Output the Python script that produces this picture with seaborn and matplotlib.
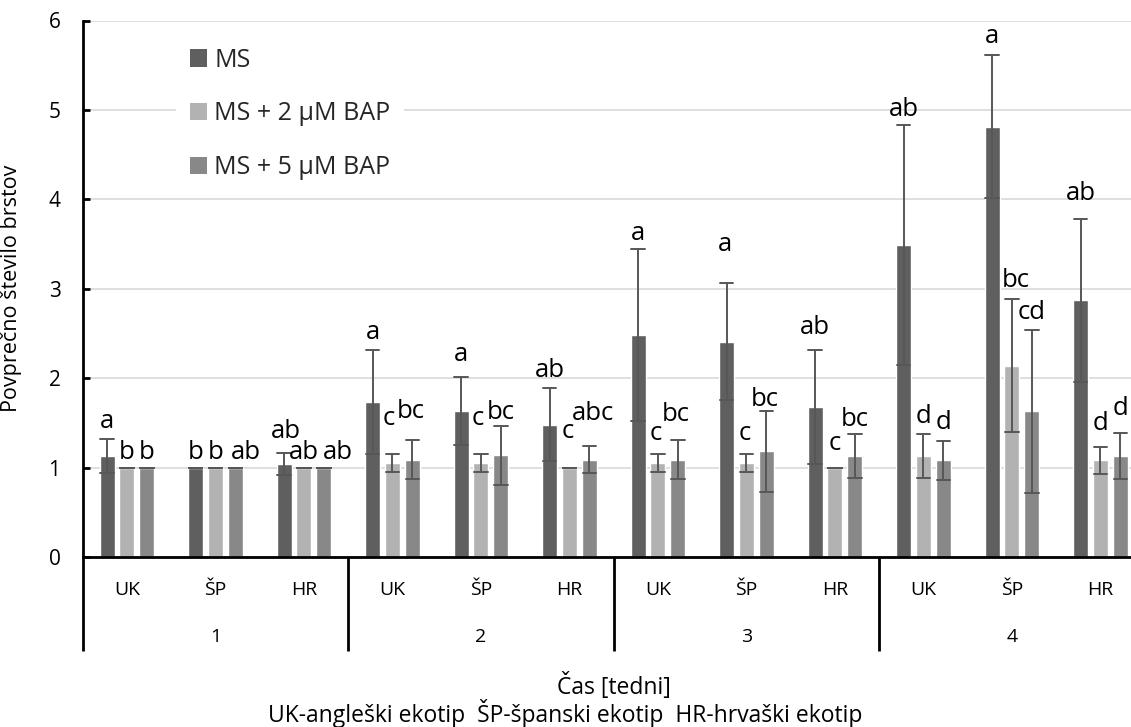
import numpy as np
import pandas as pd
import matplotlib
matplotlib.use("Agg")
import matplotlib.pyplot as plt
import seaborn as sns
from matplotlib.patches import Patch
from matplotlib.transforms import blended_transform_factory

# ---------------- data ----------------
weeks = ["1", "2", "3", "4"]
ecotypes = ["UK", "ŠP", "HR"]
treatments = ["MS", "MS + 2 µM BAP", "MS + 5 µM BAP"]

ms_mean = [1.13, 1.00, 1.04, 1.73, 1.63, 1.48, 2.48, 2.41, 1.68, 3.49, 4.81, 2.87]
ms_err = [0.19, 0.00, 0.12, 0.58, 0.38, 0.41, 0.96, 0.65, 0.64, 1.34, 0.80, 0.91]
bap2_mean = [1.00, 1.00, 1.00, 1.05, 1.05, 1.00, 1.05, 1.05, 1.00, 1.13, 2.14, 1.08]
bap2_err = [0.00, 0.00, 0.00, 0.10, 0.10, 0.00, 0.10, 0.10, 0.00, 0.25, 0.74, 0.15]
bap5_mean = [1.00, 1.00, 1.00, 1.09, 1.14, 1.09, 1.09, 1.18, 1.13, 1.08, 1.63, 1.13]
bap5_err = [0.00, 0.00, 0.00, 0.22, 0.33, 0.15, 0.22, 0.45, 0.25, 0.22, 0.91, 0.26]

letters_ms = ["a", "b", "ab", "a", "a", "ab", "a", "a", "ab", "ab", "a", "ab"]
letters_bap2 = ["b", "b", "ab", "c", "c", "c", "c", "c", "c", "d", "bc", "d"]
letters_bap5 = ["b", "ab", "ab", "bc", "bc", "abc", "bc", "bc", "bc", "d", "cd", "d"]

# ---------------- layout of letter labels (pixels above the error-bar top) ----
lift_ms = [11, 9, 15, 11, 16, 11, 9, 32, 16, 9, 12, 19]
lift_bap2 = [9, 9, 9, 29, 29, 30, 14, 14, 18, 11, 12, 17]
lift_bap5 = [9, 9, 9, 22, 7, 26, 19, 5, 8, 12, 11, 18]
shift_ms = [0, 0, 2, 0, 0, 0, 0, -2, 0, 0, 0, 0]
shift_bap2 = [0, 0, 0, -4, -3, -2, -2, -2, 0, 0, 4, 0]
shift_bap5 = [0, 11, 14, -2, 0, 4, -2, -2, 0, 0, 0, 0]

colors = ["#5f5f5f", "#b2b2b2", "#888888"]

# ---------------- build table ----------------
cats = [f"{w}-{e}" for w in weeks for e in ecotypes]
means = [ms_mean, bap2_mean, bap5_mean]
errs = [ms_err, bap2_err, bap5_err]
rows = []
for t, m_list, e_list in zip(treatments, means, errs):
    for c, m, e in zip(cats, m_list, e_list):
        rows.append({"cat": c, "treat": t, "val": m - e})
        rows.append({"cat": c, "treat": t, "val": m + e})
df = pd.DataFrame(rows)

# ---------------- figure ----------------
sns.set_style("white")
plt.rcParams["font.family"] = ["Open Sans", "DejaVu Sans"]

W, H = 1131, 727
fig = plt.figure(figsize=(W / 100, H / 100), dpi=100)
ax_left, ax_right = 82.7, 82.7 + 12 * 88.5
ax_top, ax_bot = 20.5, 557
ax = fig.add_axes([ax_left / W, 1 - ax_bot / H, (ax_right - ax_left) / W, (ax_bot - ax_top) / H])

sns.barplot(data=df, x="cat", y="val", hue="treat", order=cats, hue_order=treatments,
            palette=colors, saturation=1, estimator="mean", errorbar=("pi", 100),
            capsize=0.45, err_kws={"color": "#575757", "linewidth": 1.4},
            width=0.675, gap=0.245, legend=False, ax=ax)
for p in ax.patches:
    p.set_zorder(3)
for ln in ax.lines:
    ln.set_zorder(4)

ax.set_xlim(-0.5, 11.5)
ax.set_ylim(0, 6)
ax.set_yticks(range(7))
ax.yaxis.grid(True, color="#d9d9d9", linewidth=1.2, zorder=0)
ax.set_axisbelow(True)
for s in ["top", "right"]:
    ax.spines[s].set_visible(False)
for s in ["left", "bottom"]:
    ax.spines[s].set_linewidth(2.0)
    ax.spines[s].set_color("black")
    ax.spines[s].set_zorder(6)
ax.tick_params(axis="y", direction="in", length=5, width=2, color="black",
               labelsize=15, pad=16, labelcolor="black", left=True)
ax.set_xticks([])
ax.set_xlabel("")
ax.set_ylabel("Povprečno število brstov", fontsize=15.5, color="black")
ax.yaxis.set_label_coords(-0.057, 0.5)

# letters
lifts = [lift_ms, lift_bap2, lift_bap5]
shifts = [shift_ms, shift_bap2, shift_bap5]
letters = [letters_ms, letters_bap2, letters_bap5]
for h, cont in enumerate(ax.containers):
    for i, bar in enumerate(cont):
        xc = bar.get_x() + bar.get_width() / 2
        top = means[h][i] + errs[h][i]
        ax.annotate(letters[h][i], xy=(xc, top),
                    xytext=(shifts[h][i] * 0.72, lifts[h][i] * 0.72),
                    textcoords="offset points", ha="center", va="baseline",
                    fontsize=18.5, color="black", zorder=5)

# two-level category axis
trans = blended_transform_factory(ax.transData, ax.transAxes)
hpx = ax_bot - ax_top
for i, c in enumerate(cats):
    ax.text(i, -(590 - ax_bot) / hpx, ecotypes[i % 3], transform=trans,
            ha="center", va="center", fontsize=14, color="black")
for w_i, w in enumerate(weeks):
    ax.text(3 * w_i + 1, -(637 - ax_bot) / hpx, w, transform=trans,
            ha="center", va="center", fontsize=14, color="black")
for xs in [-0.5, 2.5, 5.5, 8.5, 11.5]:
    ax.plot([xs, xs], [0, -(651 - ax_bot) / hpx], transform=trans,
            color="black", linewidth=2.0, clip_on=False, solid_capstyle="butt")

fig.text((ax_left + ax_right) / 2 / W, 1 - 686 / H, "Čas [tedni]",
         ha="center", va="center", fontsize=16.5, color="black")
fig.text(0.5, 1 - 713 / H, "UK-angleški ekotip  ŠP-španski ekotip  HR-hrvaški ekotip",
         ha="center", va="center", fontsize=16.5, color="black")

# legend
handles = [Patch(facecolor=c, edgecolor="none") for c in colors]
leg = fig.legend(handles, treatments, loc="upper left",
                 bbox_to_anchor=(176 / W, 1 - 34 / H), frameon=True,
                 fontsize=18, handlelength=0.68, handleheight=0.68,
                 handletextpad=0.3, labelspacing=1.15, borderpad=0.55,
                 borderaxespad=0)
leg.get_frame().set_facecolor("white")
leg.get_frame().set_edgecolor("none")
leg.get_frame().set_alpha(1)

fig.savefig("out.png", dpi=100)
